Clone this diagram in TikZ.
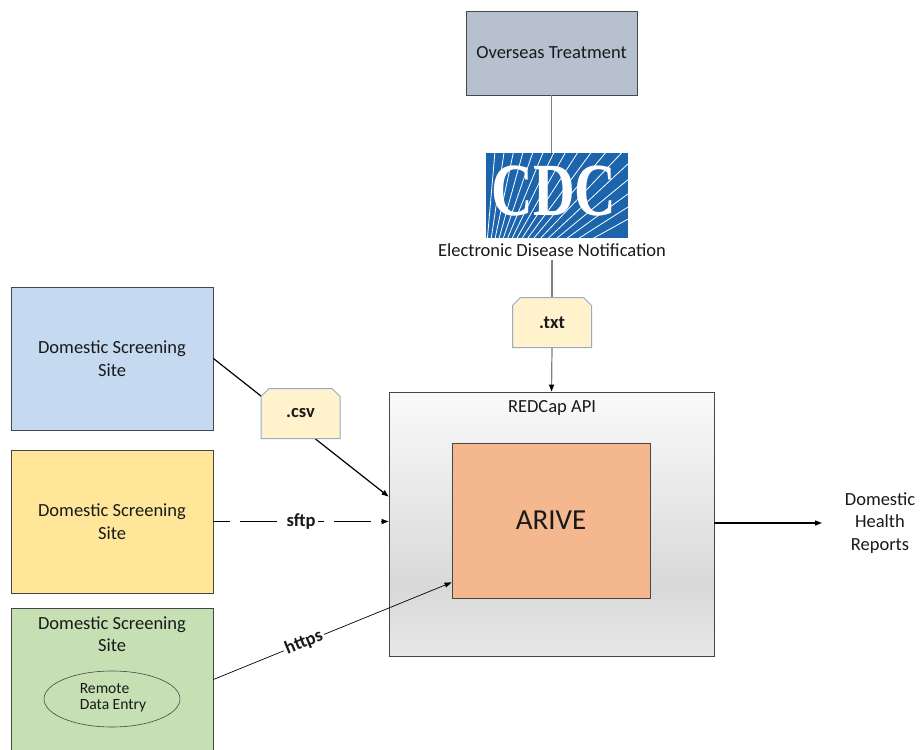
\documentclass[tikz,border=0pt]{standalone}
\usepackage{fontspec}
\usepackage{graphicx}
\setmainfont{Carlito}
\newfontfamily\cdcfont{Liberation Serif}
\usetikzlibrary{arrows.meta,shapes.geometric,shapes.misc,calc}

\definecolor{overseas}{RGB}{182,192,206}
\definecolor{siteblue}{RGB}{197,217,241}
\definecolor{siteyellow}{RGB}{255,230,153}
\definecolor{sitegreen}{RGB}{198,224,180}
\definecolor{arivecol}{RGB}{244,183,142}
\definecolor{docfill}{RGB}{255,242,204}
\definecolor{docline}{RGB}{150,172,198}
\definecolor{cdcblue}{RGB}{28,100,172}
\definecolor{boxline}{RGB}{70,70,70}

\pgfdeclareverticalshading{redcapshade}{100bp}{color(0bp)=(black!9); color(25bp)=(black!9); color(38bp)=(black!15); color(75bp)=(black!2); color(100bp)=(black!2)}

\tikzset{
  lbl/.style={font=\fontsize{18.5}{22.6}\selectfont, align=center, text=black!90},
  boldlbl/.style={font=\fontsize{18.5}{22.6}\selectfont\bfseries, text=black!90},
  sitebox/.style={draw=boxline, line width=0.8pt, minimum width=202pt, minimum height=143pt, inner sep=0pt},
  docbox/.style={chamfered rectangle, chamfered rectangle corners={north west,north east},
    chamfered rectangle xsep=4pt, chamfered rectangle ysep=4pt,
    draw=docline, fill=docfill, line width=1pt, minimum width=79pt, minimum height=50pt,
    inner sep=0pt, boldlbl},
  tip/.style={-{Triangle[length=7pt,width=5pt]}},
  greyline/.style={draw=black!50, line width=1.2pt},
}

\begin{document}
\begin{tikzpicture}[x=1pt,y=-1pt]
\useasboundingbox (0,0) rectangle (920,749);

% Overseas
\node[draw=boxline, fill=overseas, line width=0.8pt, minimum width=171pt, minimum height=84pt, lbl] (overseas) at (551.5,53) {Overseas Treatment};

% CDC logo
\node[fill=cdcblue, minimum width=142pt, minimum height=85pt, inner sep=0pt] (cdc) at (557,195.5) {};
\begin{scope}
  \clip (cdc.south west) rectangle (cdc.north east);
  \foreach \a in {85,81.5,78,74.5,71,67.5,64,60.5,57,53.5,50,46.5,43,39.5,36,32.5,29}{
    \draw[white, line width=0.8pt] (482,300) -- ++(\a:300pt);
  }
\end{scope}
\node[text=white, inner sep=0pt] (cdctext) at (554,191) {\scalebox{0.77}[1]{\cdcfont\bfseries\fontsize{75}{75}\selectfont CDC}};

\node[lbl] (edn) at (552,250) {Electronic Disease Notification};

% REDCap
\node[draw=boxline, line width=0.8pt, shading=redcapshade, minimum width=325pt, minimum height=264pt, inner sep=0pt] (redcap) at (551.5,524) {};
\node[lbl, anchor=center] (redcaplbl) at (552,408) {REDCap API};
\node[draw=boxline, fill=arivecol, line width=0.8pt, minimum width=198pt, minimum height=155pt, font=\fontsize{29}{34}\selectfont, text=black!90] (arive) at (551,520.5) {ARIVE};

% sites
\node[sitebox, fill=siteblue, lbl] (site1) at (112,358.5) {Domestic Screening\\Site};
\node[sitebox, fill=siteyellow, lbl] (site2) at (112,521.5) {Domestic Screening\\Site};
\node[sitebox, fill=sitegreen] (site3) at (112,679.5) {};
\node[lbl] (site3lbl) at (112,634) {Domestic Screening\\Site};
\node[draw=boxline, line width=0.6pt, ellipse, minimum width=136pt, minimum height=56pt, inner sep=0pt] (rde) at (112,699) {};
\node[font=\fontsize{15.6}{16}\selectfont, align=left, text=black!90] (rdelbl) at (113,698) {Remote\\Data Entry};

% txt doc and connectors
\node[docbox] (txt) at (552,322.5) {.txt};
\draw[greyline] (overseas.south) -- (overseas.south |- cdc.north);
\draw[greyline] (edn.south) -- (txt.north);
\draw[greyline, -{Triangle[length=7pt,width=5pt,color=black]}] (txt.south) -- (redcap.north);

% csv
\coordinate (csvin) at ($(redcap.north west)+(0,105)$);
\draw[black, line width=1.2pt, tip] (site1.east) -- (csvin);
\node[docbox] (csv) at (300.5,413.5) {.csv};

% sftp
\draw[black, line width=0.8pt, dash pattern=on 37pt off 10pt, dash phase=20pt, tip] (site2.east) -- (site2.east -| redcap.west)
  node[midway, fill=white, inner sep=3pt, boldlbl] (sftp) {sftp};

% https
\coordinate (httpsin) at ($(arive.south west)+(0,-16)$);
\draw[black, line width=0.7pt, tip] (site3.east) -- (httpsin)
  node[pos=0.38, sloped, fill=white, inner sep=2pt, boldlbl] (https) {https};

% output
\coordinate (outend) at (822,523);
\draw[black, line width=1.2pt, tip] (redcap.east |- outend) -- (outend);
\node[lbl] (reports) at (880,523) {Domestic\\Health\\Reports};
\end{tikzpicture}
\end{document}
